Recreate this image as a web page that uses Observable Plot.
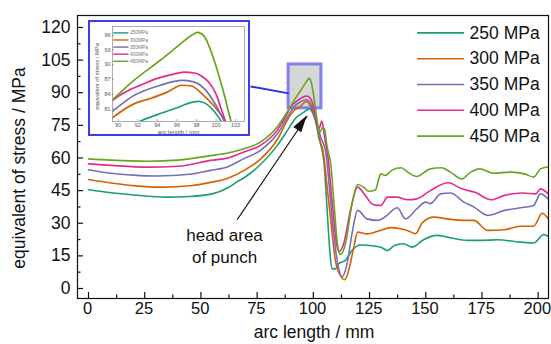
<!DOCTYPE html>
<html><head><meta charset="utf-8">
<script src="https://cdn.jsdelivr.net/npm/d3@7"></script>
<script src="https://cdn.jsdelivr.net/npm/@observablehq/plot@0.6"></script>
<style>
body{margin:0;background:#fff}
#wrap{position:relative;width:551px;height:344px;overflow:hidden;background:#fff}
#inset{position:absolute;left:88px;top:20px;width:162px;height:116px}
#insetBorder{position:absolute;left:88px;top:20px;width:162px;height:116px;box-sizing:border-box;border:2.5px solid #3c3cf0;pointer-events:none}
</style></head><body><div id="wrap"><div id="inset"></div><div id="insetBorder"></div></div>
<script>
const FONT = "'Liberation Sans', Arial, Helvetica, sans-serif";
const seriesNames = ["250 MPa", "300 MPa", "350 MPa", "400 MPa", "450 MPa"];
const insetNames = ["250MPa", "300MPa", "350MPa", "400MPa", "450MPa"];
const seriesColors = ["#1b9e77", "#d95f02", "#7570b3", "#e7298a", "#66a61e"];

const x250 = [0,10,20,35,45,55,62,66,70,76.5,84,89,92.2,94,96,97.5,98.2,99,99.8,100.5,101.5,102.4,104,105,105.6,106.5,107.3,108.3,109.8,111.3,114.3,117.2,120.9,126.8,130,133,136,140,144,149,155,161,168.5,174.4,182,192,198,202.5,204.5];
const y250 = [45.4,44,43,42,42.3,43.5,46.3,49,51.5,57,65.8,73.5,78.4,79.8,81.2,82.3,82.5,82,80.5,78.5,74.5,69.5,63,55,45,30,17.5,9,9,11.4,13,17.5,20,19.5,19,17.5,19.8,20.6,19,22.4,24.4,23.3,22.1,22.1,22.4,21.3,20.9,24.8,23.9];

const x300 = [0,10,20,33,45,54.3,62,69,76.5,84,89.5,91.6,93.3,95,96.5,97.4,98.75,99.9,100.9,102,103,104.3,106,107.6,109.8,112,114,115.7,118,119.7,123.9,129.8,134.3,138.8,141.8,145.5,148.5,153.7,159.6,167,171.5,177.5,185,192,198,201.8,204.5];
const y300 = [50.1,48.5,47.3,46.6,47.2,48.8,50.7,54.2,59.5,68.5,79.3,82,83.1,84.4,85.8,85.7,83.7,81.3,78.6,73.5,68,63.4,48,32.8,12.9,6,4,8.3,19,25.9,25.1,26.7,28,27.5,26.7,25.2,30.3,32.8,32,31.3,31.3,26.7,27,28.6,28.6,34.6,32];

const x350 = [0,10,20,30,45,54.3,62,69,76.5,84,89.5,91.6,94.3,96.5,97.7,99.1,100.1,100.8,102,103.5,105.4,107,108.3,110.6,112.8,115,117.2,119.7,123.9,128.3,132.8,134.3,137.3,141,146,150,152,156.6,161,167,171.5,177.5,185,192,198,201,204.5];
const y350 = [54.6,53,52.1,51.7,52.5,54.3,56,59.6,63.5,71.1,80.6,83.7,85.8,86.8,86.5,84.4,81.3,78.6,74,69,63.4,48,32.8,12.9,5.3,11.4,25.2,35.9,32,31.3,33.6,35.1,37.1,32,36.6,39.7,39,43.5,43.9,39.7,37.4,33.6,35.9,37.1,38.2,43.5,41.2];

const x400 = [0,10,26,40,54.3,62,69.1,76.5,83.9,88.3,89.5,91,92.5,94,95.5,96.7,97.8,98.5,99.3,100,100.6,101.2,102.5,103.8,105,106.5,108.3,110.6,111.7,113.5,116.5,119.7,123.1,126.1,128.3,130,133,137,142,146,152,160,166,172,179,185,193,199,201,204.5];
const y400 = [57.3,56.6,55.8,56.2,58.9,60,62.7,65.8,72.7,80.3,82.8,84.7,86,87.2,88,88.5,88.3,87.7,86.3,84,80.5,77,73.5,77,69.5,60.4,40.4,19,17.2,20.6,35.9,46.6,42.7,38.9,38.2,38.2,42,42,40.8,41.2,45,48.6,45.8,44.2,40.8,42.8,43.9,43.5,45.8,43.5];

const x450 = [0,10,26,40,54.3,62,69.1,76.5,83.9,88.3,89.5,91.6,94.3,96.4,97.5,98.1,98.75,99.8,100.8,101.5,102.2,103,104,105,106,107.9,109.1,110.9,112,114.3,117.2,119.7,122.4,124.6,127.6,129.1,130,132,135,139,142,146,152,157,161,166,170,174,180,188,194,198,201,204.5];
const y450 = [59.6,59,58.5,59,61.1,62.3,64.2,67.3,74.2,81,83,86.8,90.9,94.3,96,96.6,95.9,90.9,84.1,78.6,74,72,74,73.3,66,55.7,40.4,19,15.6,20.6,38.9,47.8,46.6,44.7,45.3,50.4,52.7,52,54.4,55.5,53.5,51.5,55,55.5,53.5,50.4,53.5,55,53,53.5,52.7,51.2,55,56];

const xs = [x250, x300, x350, x400, x450];
const ys = [y250, y300, y350, y400, y450];

const xMajor = [0,25,50,75,100,125,150,175,200];
const xMinor = [12.5,37.5,62.5,87.5,112.5,137.5,162.5,187.5];
const yMajor = [0,15,30,45,60,75,90,105,120];
const yMinor = [7.5,22.5,37.5,52.5,67.5,82.5,97.5,112.5];
const insetXTicks = [90,92,94,96,98,100,102];
const insetYTicks = [81,84,87,90,93,96];

const zoomBox = [{x1: 89.0, x2: 103.6, y1: 82.8, y2: 103}];
const connector = [{x1: 72.1, y1: 92.9, x2: 89.0, y2: 89.7}];
const arrowFrom = [66.1, 31.6];
const arrowTo = [97.3, 79.3];
const noteText = "head area\nof punch";
const notePos = [60.5, 11.5];

const rows = seriesNames.flatMap((s, i) => xs[i].map((x, j) => ({series: s, x, y: ys[i][j]})));
const insetRows = insetNames.flatMap((s, i) => xs[i].map((x, j) => ({series: s, x, y: ys[i][j]})));

const legend = seriesNames.map((s, i) => ({series: s, y: 117.5 - i * 11.86}));
const insetLegend = insetNames.map((s, i) => ({series: s, y: 96.5 - i * 1.45}));

const W = 551, H = 344, mL = 77, mR = 3, mT = 15, mB = 46;
const pW = W - mL - mR, pH = H - mT - mB;

function arrowHead(index, scales) {
  const x1 = scales.x(arrowFrom[0]), y1 = scales.y(arrowFrom[1]);
  const x2 = scales.x(arrowTo[0]), y2 = scales.y(arrowTo[1]);
  const a = Math.atan2(y2 - y1, x2 - x1), L = 17, Wd = 4.8;
  const bx = x2 - L * Math.cos(a), by = y2 - L * Math.sin(a);
  const px = -Math.sin(a) * Wd, py = Math.cos(a) * Wd;
  const p = document.createElementNS("http://www.w3.org/2000/svg", "path");
  p.setAttribute("d", `M${x2},${y2}L${bx + px},${by + py}L${bx - px},${by - py}Z`);
  p.setAttribute("fill", "#111");
  return p;
}

const main = Plot.plot({
  width: W, height: H,
  marginLeft: mL, marginRight: mR, marginTop: mT, marginBottom: mB,
  x: {domain: [-4.9, 204.6]},
  y: {domain: [-4.6, 125.5]},
  color: {domain: seriesNames, range: seriesColors},
  style: {fontFamily: FONT, fontSize: "17px", color: "#111", background: "white", overflow: "visible"},
  marks: [
    Plot.rect(zoomBox, {x1: "x1", x2: "x2", y1: "y1", y2: "y2", fill: "#d6d6d6", stroke: "#6e6ef5", strokeWidth: 3, strokeOpacity: 0.85}),
    Plot.link(connector, {x1: "x1", y1: "y1", x2: "x2", y2: "y2", stroke: "#2f2fe6", strokeWidth: 2}),
    Plot.line(rows, {x: "x", y: "y", z: "series", stroke: "series", strokeWidth: 1.6, curve: "monotone-x"}),
    Plot.link([{a: arrowFrom, b: arrowTo}], {x1: d => d.a[0], y1: d => d.a[1], x2: d => d.b[0], y2: d => d.b[1], stroke: "#111", strokeWidth: 1.2}),
    arrowHead,
    Plot.text([noteText], {x: notePos[0], y: notePos[1], text: d => d, fontSize: 17, lineAnchor: "bottom", lineHeight: 1.32, fill: "#111"}),
    Plot.ruleY(legend, {y: "y", x1: 146.4, x2: 167.3, stroke: "series", strokeWidth: 1.6}),
    Plot.text(legend, {y: "y", x: 169.5, text: "series", textAnchor: "start", fontSize: 17.5, fill: "#111"}),
    Plot.frame({stroke: "#111", strokeWidth: 1.2}),
    Plot.tickX(xMajor, {x: d => d, insetTop: pH - 6, stroke: "#111", strokeWidth: 1.2}),
    Plot.tickX(xMinor, {x: d => d, insetTop: pH - 3.5, stroke: "#111", strokeWidth: 1.2}),
    Plot.tickY(yMajor, {y: d => d, insetRight: pW - 6, stroke: "#111", strokeWidth: 1.2}),
    Plot.tickY(yMinor, {y: d => d, insetRight: pW - 3.5, stroke: "#111", strokeWidth: 1.2}),
    Plot.axisX({ticks: xMajor, tickSize: 0, tickPadding: 4, fontSize: 16.5, dx: -0.8, label: null}),
    Plot.axisY({ticks: yMajor, tickSize: 0, tickPadding: 7, fontSize: 17.5, label: null}),
    Plot.text(["arc length / mm"], {frameAnchor: "bottom", text: d => d, textAnchor: "middle", lineAnchor: "bottom", dy: 39, dx: 1, fontSize: 17.5, fill: "#111"}),
    Plot.text(["equivalent of stress / MPa"], {frameAnchor: "left", text: d => d, textAnchor: "middle", rotate: -90, dx: -58.5, dy: 11, fontSize: 17.5, fill: "#111"})
  ]
});
document.getElementById("wrap").prepend(main);

const iW = 162, iH = 116, imL = 24, imR = 6, imT = 6, imB = 15;
const ipW = iW - imL - imR, ipH = iH - imT - imB;
const inset = Plot.plot({
  width: iW, height: iH,
  marginLeft: imL, marginRight: imR, marginTop: imT, marginBottom: imB,
  x: {domain: [89.42, 102.9]},
  y: {domain: [78.4, 97.8]},
  color: {domain: insetNames, range: seriesColors},
  style: {fontFamily: FONT, fontSize: "6px", color: "#555", background: "white"},
  marks: [
    Plot.line(insetRows, {x: "x", y: "y", z: "series", stroke: "series", strokeWidth: 1.7, curve: "monotone-x", clip: true}),
    Plot.frame({stroke: "#9a9a9a", strokeWidth: 0.8}),
    Plot.tickX(insetXTicks, {x: d => d, insetTop: ipH - 2, stroke: "#888", strokeWidth: 0.7}),
    Plot.tickY(insetYTicks, {y: d => d, insetRight: ipW - 2, stroke: "#888", strokeWidth: 0.7}),
    Plot.axisX({ticks: insetXTicks, tickSize: 0, tickPadding: 1.5, fontSize: 5.5, label: null, fill: "#555"}),
    Plot.axisY({ticks: insetYTicks, tickSize: 0, tickPadding: 2, fontSize: 5.5, label: null, fill: "#555"}),
    Plot.ruleY(insetLegend, {y: "y", x1: 89.55, x2: 91.1, stroke: "series", strokeWidth: 1.4}),
    Plot.text(insetLegend, {y: "y", x: 91.2, text: "series", textAnchor: "start", fontSize: 4.8, fill: "#777"}),
    Plot.text(["arc length / mm"], {frameAnchor: "bottom", text: d => d, textAnchor: "middle", lineAnchor: "middle", dy: 10.5, fontSize: 6, fill: "#555"}),
    Plot.text(["equivalent of stress / MPa"], {frameAnchor: "left", text: d => d, textAnchor: "middle", rotate: -90, dx: -15, dy: 2.5, fontSize: 5.8, fill: "#555"})
  ]
});
document.getElementById("inset").appendChild(inset);
</script></body></html>
